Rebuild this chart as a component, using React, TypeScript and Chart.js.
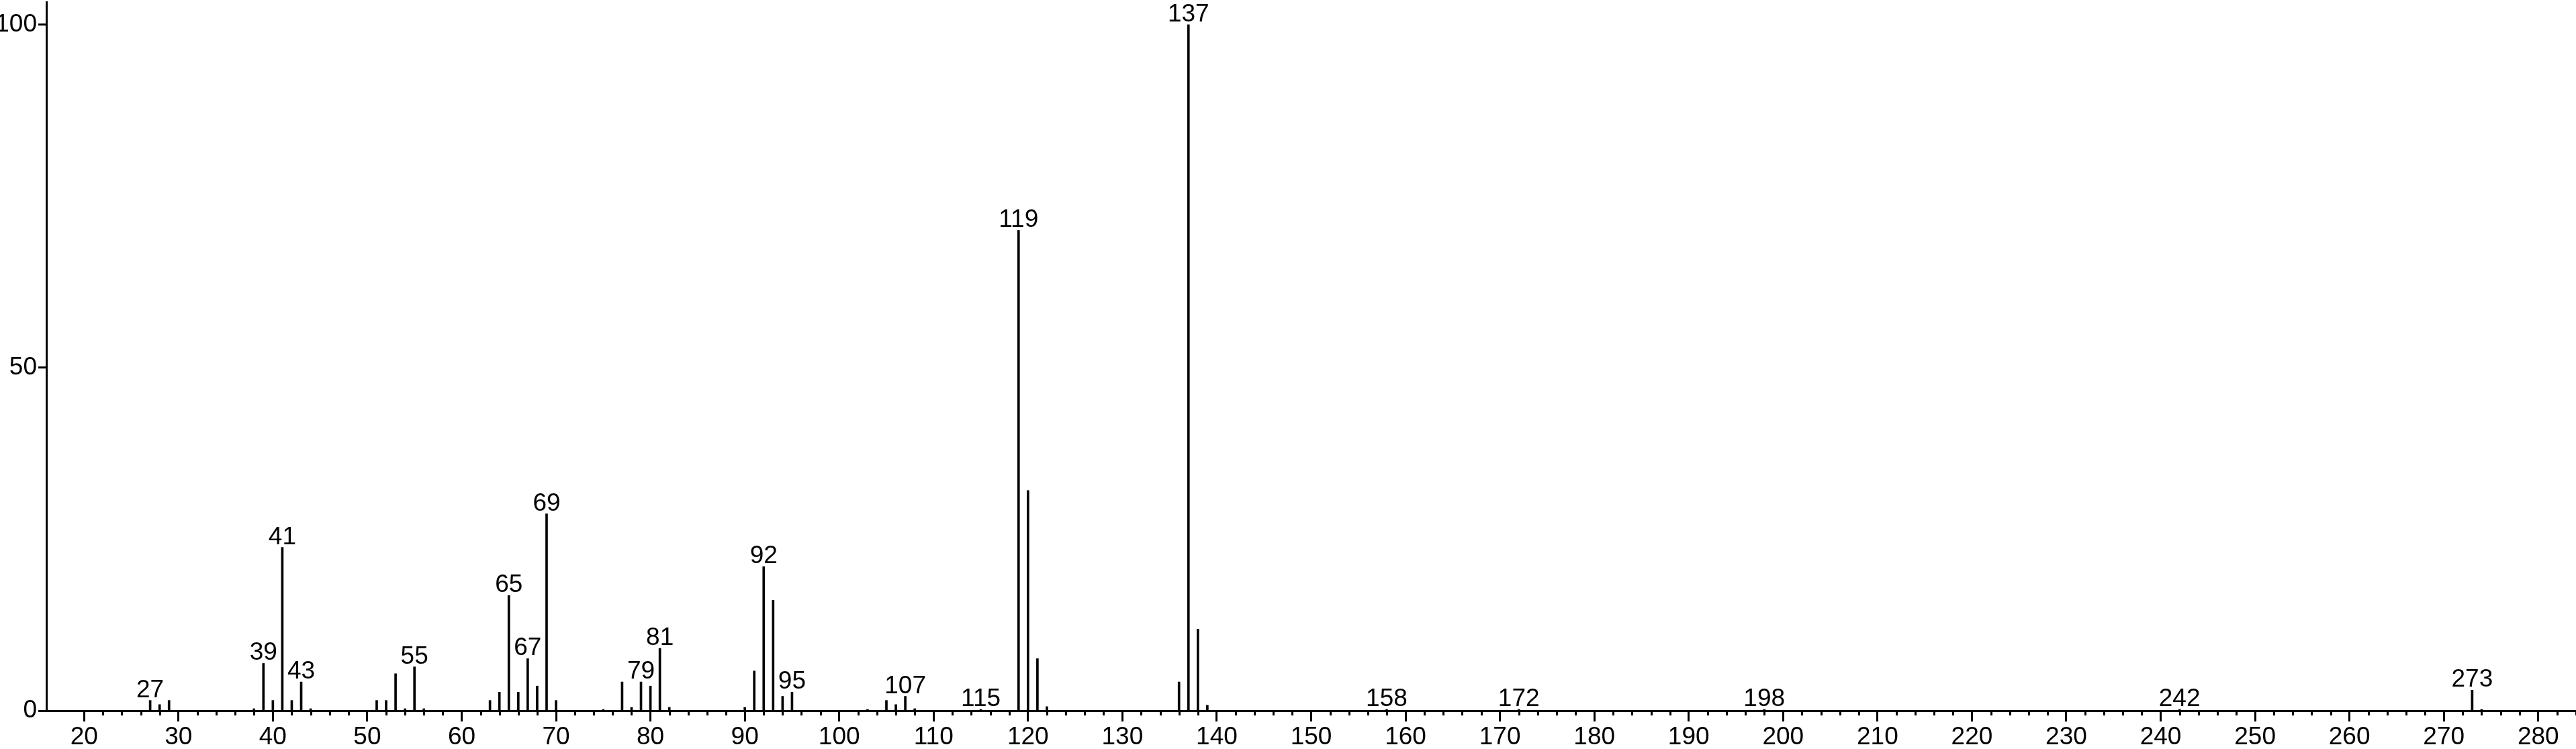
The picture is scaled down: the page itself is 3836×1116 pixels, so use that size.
import { useEffect, useRef } from "react";
import { Chart, registerables } from "chart.js";

Chart.register(...registerables);

// m/z values of the spectrum peaks
const mzValues = [
  27, 28, 29, 38, 39, 40, 41, 42, 43, 44,
  51, 52, 53, 54, 55, 56, 63, 64, 65, 66,
  67, 68, 69, 70, 75, 77, 78, 79, 80, 81,
  82, 90, 91, 92, 93, 94, 95, 103, 105, 106,
  107, 108, 115, 119, 120, 121, 122, 136, 137, 138,
  139, 158, 172, 198, 242, 273, 274,
];

// relative intensities (%)
const intensities = [
  1.5, 0.9, 1.5, 0.3, 6.9, 1.5, 23.8, 1.5, 4.2, 0.3,
  1.5, 1.5, 5.4, 0.3, 6.4, 0.3, 1.5, 2.7, 16.8, 2.7,
  7.6, 3.6, 28.7, 1.5, 0.2, 4.2, 0.5, 4.2, 3.6, 9.1,
  0.5, 0.5, 5.8, 21.0, 16.1, 2.1, 2.7, 0.2, 1.5, 0.9,
  2.1, 0.3, 0.2, 70.0, 32.1, 7.6, 0.6, 4.2, 100, 11.9,
  0.8, 0.2, 0.2, 0.2, 0.2, 3.0, 0.2,
];

// peaks carrying an m/z label
const labeledPeaks = [
  27, 39, 41, 43, 55, 65, 67, 69, 79, 81, 92, 95, 107, 115, 119, 137, 158, 172, 198, 242, 273,
];

const xTickLabels = [20, 30, 40, 50, 60, 70, 80, 90, 100, 110, 120, 130, 140, 150, 160, 170, 180, 190, 200, 210, 220, 230, 240, 250, 260, 270, 280];
const yTickLabels = [0, 50, 100];

const FONT_FAMILY = '"Liberation Sans Narrow", "Arial Narrow", "Liberation Sans", Arial, sans-serif';
const FONT_SIZE = 37;

const X_MIN = 16;
const X_MAX = 284;
const Y_MAX = 103.3;

const spectrumPlugin = {
  id: "spectrumDecor",
  afterDraw(chart: any) {
    const ctx = chart.ctx as CanvasRenderingContext2D;
    const xs = chart.scales.x;
    const ys = chart.scales.y;
    const y0 = ys.getPixelForValue(0);
    ctx.save();
    ctx.strokeStyle = "#000";
    ctx.lineWidth = 3;
    // minor ticks every 2 units
    for (let v = 22; v <= X_MAX; v += 2) {
      if (v % 10 === 0) continue;
      const px = Math.round(xs.getPixelForValue(v)) + 0.5;
      ctx.beginPath();
      ctx.moveTo(px, y0);
      ctx.lineTo(px, y0 + 7);
      ctx.stroke();
    }
    // peak labels
    ctx.fillStyle = "#000";
    ctx.font = `${FONT_SIZE}px ${FONT_FAMILY}`;
    ctx.textAlign = "center";
    ctx.textBaseline = "alphabetic";
    labeledPeaks.forEach((m) => {
      const i = mzValues.indexOf(m);
      const val = i >= 0 ? intensities[i] : 0;
      ctx.fillText(String(m), xs.getPixelForValue(m), ys.getPixelForValue(val) - 5);
    });
    ctx.restore();
  },
};

export default function App() {
  const canvasRef = useRef<HTMLCanvasElement | null>(null);

  useEffect(() => {
    if (!canvasRef.current) return;
    const chart = new Chart(canvasRef.current, {
      type: "bar",
      data: {
        datasets: [
          {
            data: mzValues.map((m, i) => ({ x: m, y: intensities[i] })),
            backgroundColor: "#000",
            borderWidth: 0,
            barThickness: 3,
          },
        ],
      },
      options: {
        responsive: true,
        maintainAspectRatio: false,
        animation: false,
        devicePixelRatio: 1,
        layout: { padding: { top: 3, right: 0, left: 0, bottom: 0 } },
        plugins: {
          legend: { display: false },
          tooltip: { enabled: false },
        },
        scales: {
          x: {
            type: "linear",
            min: X_MIN,
            max: X_MAX,
            offset: false,
            afterBuildTicks: (scale: any) => {
              scale.ticks = xTickLabels.map((v) => ({ value: v }));
            },
            afterFit: (scale: any) => {
              scale.height = 57;
              scale.paddingLeft = 0;
              scale.paddingRight = 0;
            },
            grid: {
              display: true,
              offset: false,
              drawOnChartArea: false,
              drawTicks: true,
              tickLength: 16,
              tickWidth: 3,
              tickColor: "#000",
            },
            border: { display: true, color: "#000", width: 3 },
            ticks: {
              color: "#000",
              font: { family: FONT_FAMILY, size: FONT_SIZE },
              padding: 2,
              maxRotation: 0,
              autoSkip: false,
            },
          },
          y: {
            type: "linear",
            min: 0,
            max: Y_MAX,
            afterBuildTicks: (scale: any) => {
              scale.ticks = yTickLabels.map((v) => ({ value: v }));
            },
            afterFit: (scale: any) => {
              scale.width = 69;
              scale.paddingTop = 0;
              scale.paddingBottom = 0;
            },
            grid: {
              display: true,
              drawOnChartArea: false,
              drawTicks: true,
              tickLength: 12,
              tickWidth: 3,
              tickColor: "#000",
            },
            border: { display: true, color: "#000", width: 3 },
            ticks: {
              color: "#000",
              font: { family: FONT_FAMILY, size: FONT_SIZE },
              padding: 2,
              autoSkip: false,
            },
          },
        },
      },
      plugins: [spectrumPlugin],
    } as any);
    return () => chart.destroy();
  }, []);

  return (
    <div style={{ position: "fixed", left: 0, top: 0, width: "3836px", height: "1116px", background: "#fff" }}>
      <canvas ref={canvasRef} />
    </div>
  );
}
